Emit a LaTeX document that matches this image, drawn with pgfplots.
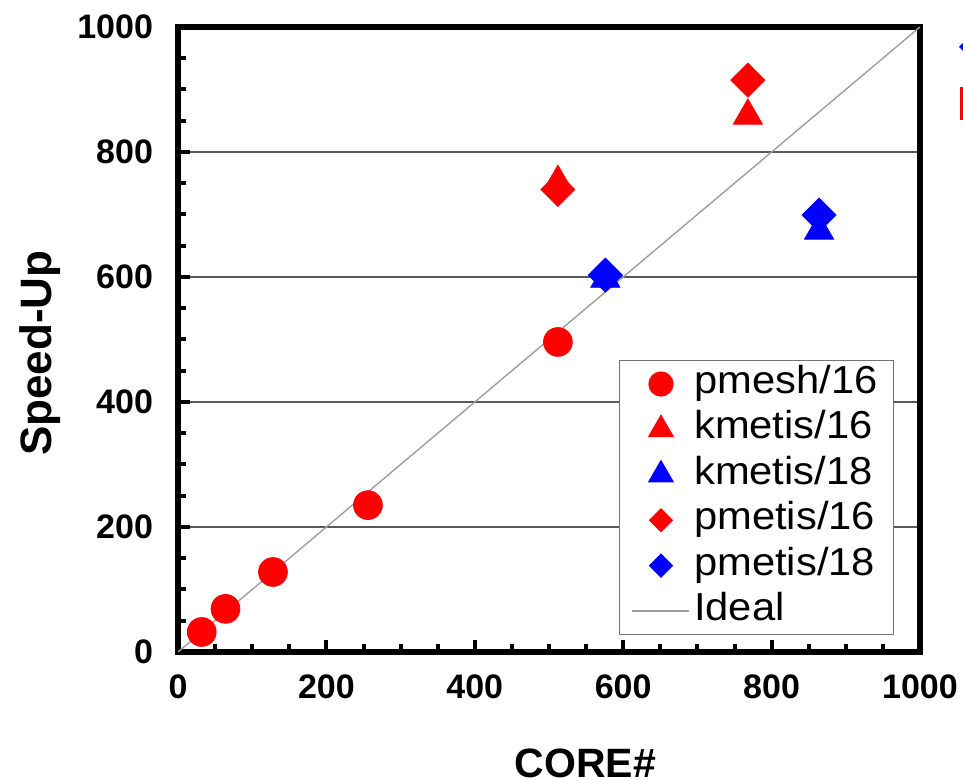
\documentclass[border=0pt]{standalone}
\usepackage{fontspec}
\setmainfont{Liberation Sans}
\newfontfamily\legfont[FakeStretch=1.07]{Liberation Sans}
\usepackage{pgfplots}
\pgfplotsset{compat=1.18}

\begin{document}
\begin{tikzpicture}
  % picture window (axis box lower left is at 0,0; 1px = 0.5pt)
  \path[use as bounding box, clip] (-89pt,-63.5pt) rectangle (392.5pt,326pt);
  \begin{axis}[
    scale only axis,
    width=371pt,
    height=312.5pt,
    xmin=0, xmax=1000,
    ymin=0, ymax=1000,
    xtick={0,200,...,1000},
    ytick={0,200,...,1000},
    minor x tick num=3,
    minor y tick num=3,
    xtick pos=left,
    ytick pos=left,
    tick align=inside,
    major tick length=6pt,
    minor tick length=4pt,
    every tick/.style={black, line width=2pt},
    axis line style={line width=3pt},
    ymajorgrids,
    major grid style={black!65, line width=0.6pt},
    /pgf/number format/assume math mode=true,
    /pgf/number format/1000 sep={},
    tick label style={font=\fontsize{17}{17}\selectfont\bfseries},
    yticklabel style={xshift=-9pt},
    xticklabel style={yshift=-8pt},
    xlabel={CORE\#},
    ylabel={Speed-Up},
    xlabel style={font=\fontsize{20.5}{24}\selectfont\bfseries,
      at={(axis description cs:0.549,-0.178)}, anchor=center},
    ylabel style={font=\fontsize{22}{26}\selectfont\bfseries,
      at={(axis description cs:-0.186,0.478)}, anchor=center},
    legend cell align=left,
    legend image code/.code={%
      \draw[mark repeat=2, mark phase=2]
        plot coordinates {(0pt,0pt) (14.25pt,0pt) (28.5pt,0pt)};},
    legend style={
      at={(rel axis cs:0.965,0.027)}, anchor=south east,
      draw=black!55, line width=0.6pt,
      font=\legfont\fontsize{19.5}{22}\selectfont,
      row sep=4.2pt,
      inner xsep=6pt, inner ysep=2.5pt,
      nodes={inner ysep=0pt, inner xsep=2pt, text height=14pt, text depth=4.5pt},
    },
  ]
    % ideal
    \addplot[forget plot, black!38, line width=0.7pt] coordinates {(0,0) (1000,1000)};

    % pmesh/16
    \addplot[forget plot, only marks, mark=*, red, mark size=7.2pt]
      coordinates {(32,32) (64,69) (128,128) (256,235) (512,496)};
    % kmetis/16
    \addplot[forget plot, only marks, mark=triangle*, red, mark size=8.4pt]
      coordinates {(512,752) (768,858)};
    % kmetis/18
    \addplot[forget plot, only marks, mark=triangle*, blue, mark size=8.4pt]
      coordinates {(576,597) (864,674)};
    % pmetis/16
    \addplot[forget plot, only marks, mark=square*, red, mark size=6pt,
      mark options={rotate=45}]
      coordinates {(512,740) (768,915)};
    % pmetis/18
    \addplot[forget plot, only marks, mark=square*, blue, mark size=6pt,
      mark options={rotate=45}]
      coordinates {(576,603) (864,699)};

    \addlegendimage{only marks, mark=*, red, mark size=6pt}
    \addlegendentry{pmesh/16}
    \addlegendimage{only marks, mark=triangle*, red, mark size=7pt}
    \addlegendentry{kmetis/16}
    \addlegendimage{only marks, mark=triangle*, blue, mark size=7pt}
    \addlegendentry{kmetis/18}
    \addlegendimage{only marks, mark=square*, red, mark size=4pt, mark options={rotate=45}}
    \addlegendentry{pmetis/16}
    \addlegendimage{only marks, mark=square*, blue, mark size=4pt, mark options={rotate=45}}
    \addlegendentry{pmetis/18}
    \addlegendimage{black!38, line width=0.7pt}
    \addlegendentry{Ideal}
  \end{axis}
  % remains of a second legend cut off at the right edge
  \fill[blue] (393.5pt,305.5pt) -- (396.5pt,302.5pt) -- (393.5pt,299.5pt) -- (390.5pt,302.5pt) -- cycle;
  \fill[red] (391pt,266pt) rectangle (400pt,282.5pt);
\end{tikzpicture}
\end{document}
